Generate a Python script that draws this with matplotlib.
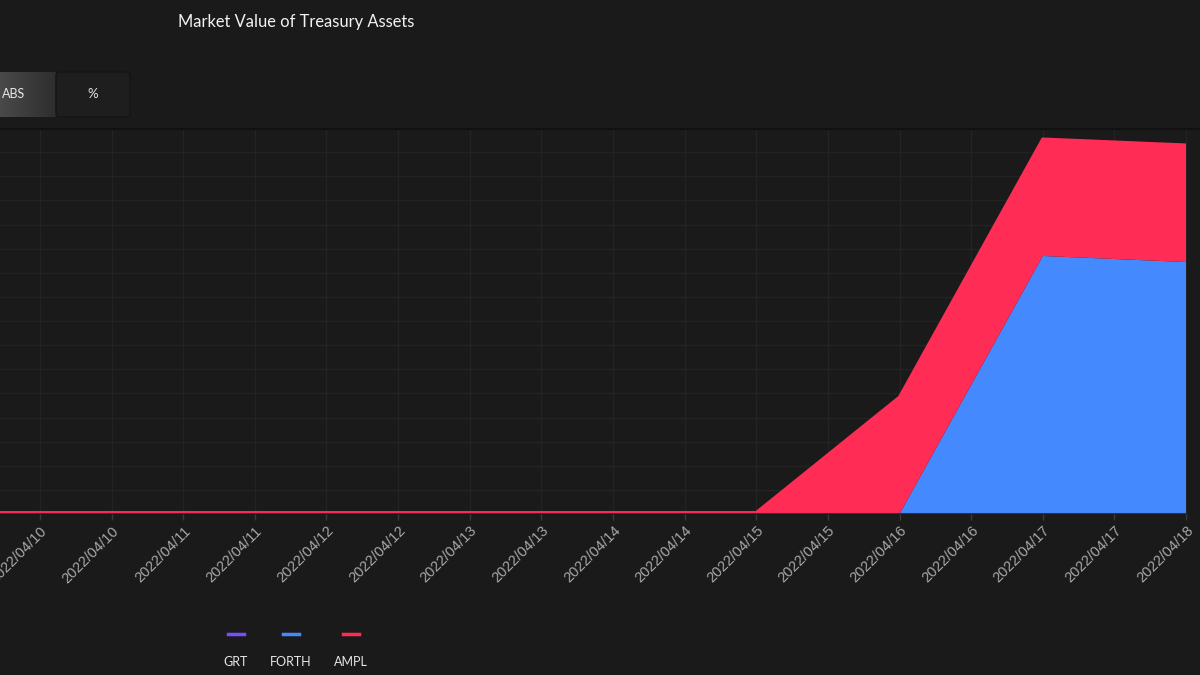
import numpy as np
import pandas as pd
import matplotlib
matplotlib.use("Agg")
import matplotlib.pyplot as plt
import matplotlib.dates as mdates
from matplotlib.lines import Line2D
from matplotlib.patches import FancyBboxPatch

# daily treasury values (USD)
dates = pd.date_range("2022-04-09", "2022-04-18", freq="D")
grt = [0, 0, 0, 0, 0, 0, 0, 0, 0, 0]
forth = [0, 0, 0, 0, 0, 0, 0, 0, 267400, 261100]
ampl = [1500, 1500, 1500, 1500, 1500, 1500, 1500, 121200, 121200, 121300]

series_names = ["GRT", "FORTH", "AMPL"]
series_colors = ["#7b4dff", "#4589ff", "#ff2d55"]

bg = "#1a1a1a"

fig = plt.figure(figsize=(12, 6.75), dpi=100, facecolor=bg)

# axes placed in pixel terms of the 1200x675 figure
W, H = 1200, 675
ax = fig.add_axes([0 / W, 1 - 514 / H, 1187 / W, (514 - 128) / H])
ax.set_facecolor(bg)

ax.stackplot(dates, grt, forth, ampl, colors=series_colors, linewidth=0)
# thin stroke on the top of the stack
top = np.array(grt) + np.array(forth) + np.array(ampl)
ax.plot(dates, top, color=series_colors[2], lw=2.2, solid_capstyle="butt")
ax.plot(dates, grt, color="#22307a", lw=1.5)

x0 = pd.Timestamp("2022-04-10") - pd.Timedelta(hours=6.7)
ax.set_xlim(x0, pd.Timestamp("2022-04-18 00:10"))
ax.set_ylim(0, 400000)

ticks = pd.date_range("2022-04-10", "2022-04-18", freq="12h")
ax.set_xticks(ticks)
ax.xaxis.set_major_formatter(mdates.DateFormatter("%Y/%m/%d"))
ax.set_yticks(np.arange(0, 400001, 25000))
ax.set_yticklabels([])
ax.tick_params(axis="y", length=0)
ax.tick_params(axis="x", colors="#3a3a3a", length=4, width=1, labelcolor="#a8a8a8",
               labelsize=10.5, pad=3)
for lab in ax.get_xticklabels():
    lab.set_rotation(45)
    lab.set_ha("right")
    lab.set_rotation_mode("anchor")
    lab.set_family("Liberation Sans")

ax.grid(True, color="#232323", lw=0.9)
ax.set_axisbelow(True)
for s in ax.spines.values():
    s.set_visible(False)

# separator above the plot
fig.add_artist(Line2D([0, 1], [1 - 128.5 / H] * 2, color="#111111", lw=1.5))

# title
fig.text(178 / W, 1 - 22 / H, "Market Value of Treasury Assets", color="#f2f2f2",
         fontsize=11.9, family="Lato", va="center", ha="left")

# ABS / % toggle
fig.patches.append(FancyBboxPatch((56 / W, 1 - 117 / H), 74 / W, 45 / H,
                                  boxstyle="round,pad=0,rounding_size=0.004",
                                  transform=fig.transFigure, fc="#1e1e1e",
                                  ec="#151515", lw=1))
gax = fig.add_axes([0, 1 - 117 / H, 56 / W, 45 / H])
grad = np.linspace(0, 1, 100).reshape(1, -1)
gax.imshow(grad, aspect="auto", cmap=matplotlib.colors.LinearSegmentedColormap.from_list(
    "g", ["#4a4a4a", "#2e2e2e"]))
gax.axis("off")
fig.text(2 / W, 1 - 94 / H, "ABS", color="#e8e8e8", fontsize=9, family="Lato",
         ha="left", va="center")
fig.text(93 / W, 1 - 94 / H, "%", color="#e8e8e8", fontsize=9.5, family="Lato",
         ha="center", va="center")

# legend
legend_x = [236, 291, 351]
for name, col, lx in zip(series_names, series_colors, legend_x):
    fig.add_artist(Line2D([(lx - 8) / W, (lx + 8) / W], [1 - 634 / H] * 2,
                          color=col, lw=2.5))
    fig.text(lx / W, 1 - 662 / H, name, color="#e6e6e6", fontsize=9, family="Lato",
             ha="center", va="center")

fig.savefig("out.png", dpi=100, facecolor=bg)
